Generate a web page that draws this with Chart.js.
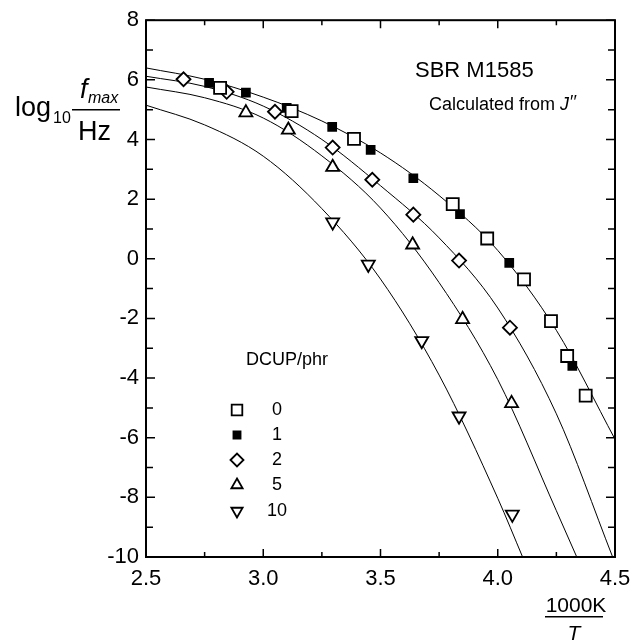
<!DOCTYPE html>
<html>
<head>
<meta charset="utf-8">
<script src="https://cdn.jsdelivr.net/npm/chart.js@4.4.1/dist/chart.umd.min.js"></script>
<style>
html, body { margin: 0; padding: 0; background: #fff; }
</style>
</head>
<body>
<canvas id="chart" width="642" height="643"></canvas>
<script>
// measured points: x = 1000K/T, y = log10(fmax/Hz)
var dcup0X = [2.816, 3.121, 3.387, 3.808, 3.955, 4.112, 4.227, 4.296, 4.375];
var dcup0Y = [5.73, 4.95, 4.02, 1.83, 0.68, -0.69, -2.09, -3.26, -4.59];
var dcup1X = [2.769, 2.926, 3.10, 3.294, 3.458, 3.64, 3.839, 4.049, 4.318];
var dcup1Y = [5.90, 5.57, 5.06, 4.42, 3.65, 2.70, 1.50, -0.14, -3.59];
var dcup2X = [2.66, 2.844, 3.05, 3.296, 3.465, 3.64, 3.835, 4.052];
var dcup2Y = [6.02, 5.60, 4.93, 3.73, 2.65, 1.48, -0.06, -2.31];
var dcup5X = [2.926, 3.107, 3.296, 3.637, 3.85, 4.059];
var dcup5Y = [4.90, 4.32, 3.07, 0.47, -2.03, -4.85];
var dcup10X = [3.296, 3.448, 3.676, 3.835, 4.062];
var dcup10Y = [1.23, -0.19, -2.75, -5.28, -8.57];

// fitted curves
var fit01X = [2.5, 2.75, 3.0, 3.25, 3.5, 3.75, 4.0, 4.25, 4.5];
var fit01Y = [6.40, 6.02, 5.42, 4.62, 3.55, 2.12, 0.28, -2.40, -6.05];
var fit2X = [2.5, 2.75, 3.0, 3.25, 3.5, 3.75, 4.0, 4.25, 4.49];
var fit2Y = [6.12, 5.78, 5.12, 4.00, 2.45, 0.70, -1.65, -5.20, -10];
var fit5X = [2.5, 2.75, 3.0, 3.25, 3.5, 3.75, 4.0, 4.25, 4.337];
var fit5Y = [5.76, 5.40, 4.72, 3.45, 1.70, -0.80, -4.05, -8.45, -10];
var fit10X = [2.5, 2.75, 3.0, 3.25, 3.5, 3.75, 4.0, 4.106];
var fit10Y = [5.15, 4.49, 3.44, 1.68, -0.68, -3.90, -8.03, -10];

var legendLabels = ['0', '1', '2', '5', '10'];

var FONT = '"Liberation Sans", Arial, Helvetica, sans-serif';

function pts(xs, ys) {
	return xs.map(function(x, i){ return {x: x, y: ys[i]}; });
}

var markers = [
	{data: pts(dcup0X, dcup0Y), pointStyle: 'rect', pointRadius: 8.5, pointRotation: 0, pointBackgroundColor: '#fff'},
	{data: pts(dcup1X, dcup1Y), pointStyle: 'rect', pointRadius: 5.6, pointRotation: 0, pointBackgroundColor: '#000'},
	{data: pts(dcup2X, dcup2Y), pointStyle: 'rectRot', pointRadius: 7, pointRotation: 0, pointBackgroundColor: '#fff'},
	{data: pts(dcup5X, dcup5Y), pointStyle: 'triangle', pointRadius: 7.5, pointRotation: 0, pointBackgroundColor: '#fff'},
	{data: pts(dcup10X, dcup10Y), pointStyle: 'triangle', pointRadius: 7.5, pointRotation: 180, pointBackgroundColor: '#fff'}
];

var datasets = markers.map(function(m, i){
	return {
		label: legendLabels[i],
		data: m.data,
		showLine: false,
		pointStyle: m.pointStyle,
		pointRadius: m.pointRadius,
		pointRotation: m.pointRotation,
		pointBackgroundColor: m.pointBackgroundColor,
		pointBorderColor: '#000',
		pointBorderWidth: 1.8,
		order: 0
	};
});

[[fit01X, fit01Y], [fit2X, fit2Y], [fit5X, fit5Y], [fit10X, fit10Y]].forEach(function(c){
	datasets.push({
		label: '',
		data: pts(c[0], c[1]),
		showLine: true,
		borderColor: '#000',
		borderWidth: 1,
		pointRadius: 0,
		cubicInterpolationMode: 'monotone',
		fill: false,
		order: 10
	});
});

var frame = {
	id: 'frame',
	afterDraw: function(chart){
		var ctx = chart.ctx, a = chart.chartArea;
		var xs = chart.scales.x, ys = chart.scales.y;
		ctx.save();
		ctx.strokeStyle = '#000';
		ctx.lineWidth = 2;
		ctx.strokeRect(a.left, a.top, a.right - a.left, a.bottom - a.top);

		// inward ticks on all four sides
		ctx.lineWidth = 1.5;
		ctx.beginPath();
		for (var v = 2.5; v <= 4.5001; v += 0.25) {
			var px = xs.getPixelForValue(v);
			var major = Math.abs(v * 2 - Math.round(v * 2)) < 0.01;
			var len = major ? 8 : 5;
			ctx.moveTo(px, a.bottom); ctx.lineTo(px, a.bottom - len);
			ctx.moveTo(px, a.top); ctx.lineTo(px, a.top + len);
		}
		for (var w = -10; w <= 8; w += 1) {
			var py = ys.getPixelForValue(w);
			var l2 = (w % 2 === 0) ? 9 : 7;
			ctx.moveTo(a.left, py); ctx.lineTo(a.left + l2, py);
			ctx.moveTo(a.right, py); ctx.lineTo(a.right - l2, py);
		}
		ctx.stroke();

		ctx.fillStyle = '#000';
		ctx.textBaseline = 'middle';

		// annotations
		ctx.textAlign = 'left';
		ctx.font = '22px ' + FONT;
		ctx.fillText('SBR M1585', 415, 71);
		ctx.font = '18px ' + FONT;
		var t1 = 'Calculated from ';
		ctx.fillText(t1, 429, 105);
		var tw = ctx.measureText(t1).width;
		ctx.font = 'italic 18px ' + FONT;
		ctx.fillText('J', 429 + tw, 105);
		var jw = ctx.measureText('J').width;
		ctx.font = '18px ' + FONT;
		ctx.fillText('\u2032\u2032', 429 + tw + jw + 1, 103);

		// legend
		ctx.font = '18px ' + FONT;
		ctx.fillText('DCUP/phr', 246, 360);
		var rowY = [410, 435, 460, 485, 511];
		markers.forEach(function(m, i){
			ctx.fillStyle = m.pointBackgroundColor;
			ctx.strokeStyle = '#000';
			ctx.lineWidth = 1.8;
			Chart.helpers.drawPoint(ctx, {pointStyle: m.pointStyle, rotation: m.pointRotation, radius: m.pointStyle === 'rect' ? (i === 0 ? 7.5 : 5) : 6.5, borderWidth: 1.8}, 237, rowY[i]);
			ctx.fillStyle = '#000';
			ctx.textAlign = 'center';
			ctx.fillText(legendLabels[i], 277, rowY[i]);
		});

		// y axis title: log10 fmax / Hz
		ctx.textAlign = 'left';
		ctx.textBaseline = 'alphabetic';
		ctx.font = '27px ' + FONT;
		ctx.fillText('log', 15, 116);
		ctx.font = '16px ' + FONT;
		ctx.fillText('10', 53, 123);
		ctx.font = 'italic 27px ' + FONT;
		ctx.fillText('f', 80, 98);
		ctx.font = 'italic 16px ' + FONT;
		ctx.fillText('max', 88, 103);
		ctx.fillRect(72, 109, 48, 1.5);
		ctx.font = '27px ' + FONT;
		ctx.fillText('Hz', 78, 140);

		// x axis title: 1000K / T
		ctx.textAlign = 'center';
		ctx.font = '21px ' + FONT;
		ctx.fillText('1000K', 576, 612);
		ctx.fillRect(545, 616, 58, 1.5);
		ctx.font = 'italic 21px ' + FONT;
		ctx.fillText('T', 574, 640);
		ctx.restore();
	}
};

new Chart(document.getElementById('chart').getContext('2d'), {
	type: 'scatter',
	data: {datasets: datasets},
	options: {
		responsive: false,
		animation: false,
		devicePixelRatio: 1,
		layout: {padding: {left: 0, top: 18, right: 27, bottom: 0}},
		plugins: {legend: {display: false}, tooltip: {enabled: false}},
		scales: {
			x: {
				type: 'linear', min: 2.5, max: 4.5,
				grid: {display: false, drawTicks: false},
				border: {display: false},
				ticks: {stepSize: 0.5, padding: 9, color: '#000', font: {family: FONT, size: 22},
					callback: function(v){ return v.toFixed(1); }},
				afterFit: function(s){ s.height = 86; }
			},
			y: {
				type: 'linear', min: -10, max: 8,
				grid: {display: false, drawTicks: false},
				border: {display: false},
				ticks: {stepSize: 2, padding: 7, color: '#000', font: {family: FONT, size: 22},
					callback: function(v){ return String(v); }},
				afterFit: function(s){ s.width = 146; }
			}
		}
	},
	plugins: [frame]
});
</script>
</body>
</html>
